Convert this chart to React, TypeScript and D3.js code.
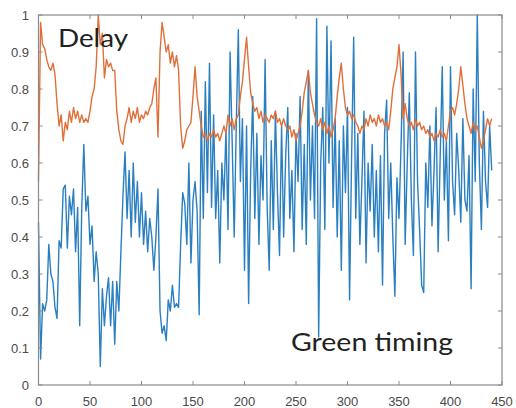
import React from "react";
import * as d3 from "d3";

const xStep = 2;
const delay = [
  0.55, 0.98, 0.92, 0.91, 0.88, 0.86, 0.85, 0.87, 0.84, 0.76,
  0.70, 0.73, 0.66, 0.71, 0.69, 0.74, 0.71, 0.75, 0.72, 0.74,
  0.71, 0.73, 0.71, 0.72, 0.71, 0.74, 0.78, 0.80, 0.86, 1.0,
  0.92, 0.95, 0.83, 0.88, 0.86, 0.87, 0.85, 0.85, 0.74, 0.69,
  0.66, 0.65, 0.70, 0.72, 0.75, 0.71, 0.74, 0.72, 0.75, 0.71,
  0.73, 0.72, 0.74, 0.73, 0.75, 0.76, 0.80, 0.83, 0.67, 0.90,
  0.98, 0.94, 0.90, 0.92, 0.87, 0.90, 0.86, 0.89, 0.85, 0.70,
  0.64, 0.66, 0.69, 0.70, 0.71, 0.78, 0.86, 0.78, 0.74, 0.70,
  0.67, 0.68, 0.66, 0.68, 0.67, 0.69, 0.67, 0.68, 0.66, 0.68,
  0.70, 0.68, 0.73, 0.70, 0.72, 0.69, 0.72, 0.73, 0.78, 0.82,
  0.88, 0.94, 0.86, 0.79, 0.76, 0.74, 0.75, 0.72, 0.74, 0.71,
  0.73, 0.72, 0.71, 0.73, 0.72, 0.74, 0.71, 0.72, 0.70, 0.72,
  0.70, 0.69, 0.70, 0.67, 0.69, 0.66, 0.68, 0.70, 0.74, 0.79,
  0.82, 0.85, 0.79, 0.76, 0.73, 0.71, 0.70, 0.72, 0.69, 0.71,
  0.68, 0.70, 0.67, 0.69, 0.72, 0.78, 0.83, 0.87, 0.80, 0.75,
  0.73, 0.74, 0.72, 0.73, 0.71, 0.70, 0.68, 0.70, 0.69, 0.72,
  0.70, 0.73, 0.71, 0.72, 0.70, 0.73, 0.71, 0.72, 0.70, 0.71,
  0.69, 0.74, 0.80, 0.83, 0.86, 0.92, 0.84, 0.72, 0.76, 0.72,
  0.70, 0.71, 0.69, 0.72, 0.70, 0.71, 0.69, 0.70, 0.68, 0.69,
  0.67, 0.68, 0.66, 0.68, 0.67, 0.69, 0.67, 0.68, 0.66, 0.70,
  0.74, 0.75, 0.73, 0.76, 0.80, 0.86, 0.81, 0.76, 0.72, 0.70,
  0.68, 0.71, 0.69, 0.70, 0.67, 0.64, 0.66, 0.69, 0.72, 0.70,
  0.72,
];
const greenTiming = [
  0.44, 0.07, 0.22, 0.20, 0.23, 0.38, 0.30, 0.28, 0.21, 0.18,
  0.39, 0.37, 0.53, 0.54, 0.37, 0.51, 0.46, 0.53, 0.36, 0.48,
  0.16, 0.48, 0.65, 0.47, 0.51, 0.38, 0.43, 0.28, 0.36, 0.30,
  0.05, 0.26, 0.16, 0.24, 0.29, 0.16, 0.28, 0.11, 0.28, 0.20,
  0.36, 0.51, 0.63, 0.45, 0.58, 0.40, 0.60, 0.44, 0.55, 0.40,
  0.52, 0.38, 0.47, 0.36, 0.45, 0.40, 0.31, 0.40, 0.53, 0.20,
  0.14, 0.16, 0.12, 0.23, 0.20, 0.27, 0.21, 0.22, 0.21, 0.38,
  0.52, 0.49, 0.38, 0.60, 0.33, 0.50, 0.55, 0.47, 0.19, 0.74,
  0.45, 0.82, 0.52, 0.87, 0.48, 0.73, 0.45, 0.58, 0.33, 0.60,
  0.50, 0.69, 0.42, 0.90, 0.66, 0.40, 0.70, 0.96, 0.55, 0.72,
  0.31, 0.70, 0.22, 0.58, 0.78, 0.45, 0.68, 0.38, 0.62, 0.50,
  0.88, 0.48, 0.31, 0.66, 0.42, 0.74, 0.52, 0.35, 0.70, 0.40,
  0.62, 0.75, 0.45, 0.58, 0.36, 0.68, 0.55, 0.78, 0.42, 0.65,
  0.38, 0.85, 0.50, 0.70, 0.45, 0.99, 0.13, 0.60, 0.75, 0.42,
  0.97, 0.60, 0.93, 0.48, 0.72, 0.40, 0.66, 0.31, 0.70, 0.52,
  0.75, 0.23, 0.62, 0.94, 0.45, 0.68, 0.38, 0.55, 0.74, 0.33,
  0.60, 0.47, 0.65, 0.40, 0.58, 0.36, 0.62, 0.27, 0.68, 0.77,
  0.45, 0.60, 0.40, 0.24, 0.56, 0.45, 0.65, 0.90, 0.38, 0.60,
  0.79, 0.50, 0.35, 0.90, 0.55, 0.42, 0.27, 0.25, 0.60, 0.48,
  0.70, 0.43, 0.58, 0.75, 0.36, 0.62, 0.86, 0.50, 0.66, 0.39,
  0.86, 0.55, 0.46, 0.68, 0.58, 0.44, 0.72, 0.50, 0.47, 0.62,
  0.26, 0.80, 0.55, 1.00, 0.60, 0.42, 0.74, 0.55, 0.48, 0.70,
  0.58,
];
const xTicks = [0, 50, 100, 150, 200, 250, 300, 350, 400, 450];
const yTicks = [0, 0.1, 0.2, 0.3, 0.4, 0.5, 0.6, 0.7, 0.8, 0.9, 1];
const labels = { delay: "Delay", green: "Green timing" };

const W = 516;
const H = 408;
const L = 38.5, R = 502, T = 15, B = 385;

export default function App() {
  const x = d3.scaleLinear().domain([0, 450]).range([L, R]);
  const y = d3.scaleLinear().domain([0, 1]).range([B, T]);
  const line = d3
    .line<number>()
    .x((_, i) => x(i * xStep))
    .y((d) => y(d));
  const axisColor = "#8a8a8a";
  const tickLen = 4;
  return (
    <svg
      width={W}
      height={H}
      style={{ position: "absolute", left: 0, top: 0, background: "#fff" }}
      fontFamily="Liberation Sans, Arial, sans-serif"
    >
      <rect x={0} y={0} width={W} height={H} fill="#fff" />
      <path d={line(greenTiming) || ""} fill="none" stroke="#2a7fc0" strokeWidth={1.4} strokeLinejoin="round" />
      <path d={line(delay) || ""} fill="none" stroke="#e0703a" strokeWidth={1.4} strokeLinejoin="round" />
      <rect x={L} y={T} width={R - L} height={B - T} fill="none" stroke={axisColor} strokeWidth={1.2} />
      {xTicks.map((t) => (
        <g key={"x" + t}>
          <line x1={x(t)} x2={x(t)} y1={B} y2={B - tickLen} stroke={axisColor} />
          <line x1={x(t)} x2={x(t)} y1={T} y2={T + tickLen} stroke={axisColor} />
          <text x={x(t)} y={406} textAnchor="middle" fontSize={13} fill="#4a4a4a">
            {t}
          </text>
        </g>
      ))}
      {yTicks.map((t) => (
        <g key={"y" + t}>
          <line x1={L} x2={L + tickLen} y1={y(t)} y2={y(t)} stroke={axisColor} />
          <line x1={R} x2={R - tickLen} y1={y(t)} y2={y(t)} stroke={axisColor} />
          <text x={29} y={y(t) + 4.5} textAnchor="end" fontSize={13} fill="#4a4a4a">
            {d3.format("~g")(t)}
          </text>
        </g>
      ))}
      <text x={58} y={47} fontSize={25} fill="#222" fontFamily="Lato, DejaVu Sans, sans-serif" textLength={70} lengthAdjust="spacingAndGlyphs">
        {labels.delay}
      </text>
      <text x={291} y={351} fontSize={25} fill="#222" fontFamily="Lato, DejaVu Sans, sans-serif" textLength={162} lengthAdjust="spacingAndGlyphs">
        {labels.green}
      </text>
    </svg>
  );
}
